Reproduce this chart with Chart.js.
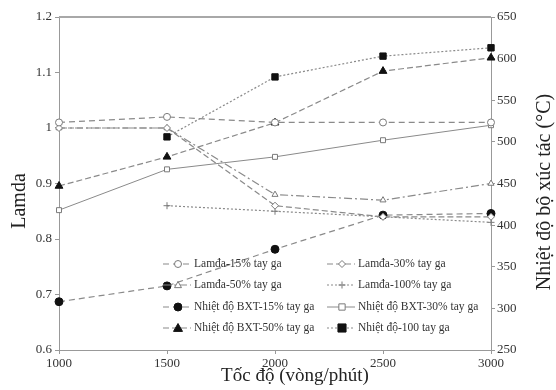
<!DOCTYPE html>
<html>
<head>
<meta charset="utf-8">
<script src="https://cdn.jsdelivr.net/npm/chart.js@4"></script>
<style>
  html, body { margin: 0; padding: 0; background: #fff; }
  #wrap { width: 556px; height: 390px; }
</style>
</head>
<body>
<div id="wrap"><canvas id="myChart" width="556" height="390"></canvas></div>
<script>
'use strict';

let speeds = ['1000', '1500', '2000', '2500', '3000'];

let lamda15 = [1.01, 1.02, 1.01, 1.01, 1.01];
let lamda30 = [1.0, 1.0, 0.86, 0.84, 0.84];
let lamda50 = [1.0, 1.0, 0.88, 0.87, 0.90];
let lamda100 = [null, 0.86, 0.85, 0.84, 0.83];

let temp15 = [308, 327, 371, 412, 414];
let temp30 = [418, 467, 482, 502, 520];
let temp50 = [447, 482, 523, 585, 601];
let temp100 = [null, 506, 578, 603, 613];

let seriesNames = [
    'Lamđa-15% tay ga', 'Lamđa-30% tay ga',
    'Lamđa-50% tay ga', 'Lamđa-100% tay ga',
    'Nhiệt độ BXT-15% tay ga', 'Nhiệt độ BXT-30% tay ga',
    'Nhiệt độ BXT-50% tay ga', 'Nhiệt độ-100 tay ga'
];

let xTitle = 'Tốc độ (vòng/phút)';
let yTitle = 'Lamda';
let y1Title = 'Nhiệt độ bộ xúc tác (°C)';

let serif = "'Liberation Serif', 'DejaVu Serif', serif";

function makeSet(name, data, axis, dash, style, radius, fill, width) {
    return {
        label: name,
        data: data,
        yAxisID: axis,
        borderColor: '#8a8a8a',
        borderWidth: width || 1.2,
        borderDash: dash,
        pointStyle: style,
        pointRadius: radius,
        pointBackgroundColor: fill,
        pointBorderColor: fill === '#fff' ? '#7a7a7a' : '#111',
        pointBorderWidth: 1,
        tension: 0,
        fill: false
    };
}

function drawMark(ctx, ds, x, y) {
    let r = ds.pointRadius;
    ctx.save();
    ctx.fillStyle = ds.pointBackgroundColor;
    ctx.strokeStyle = ds.pointBorderColor;
    ctx.lineWidth = 1;
    ctx.setLineDash([]);
    ctx.beginPath();
    if (ds.pointStyle === 'circle') {
        ctx.arc(x, y, r, 0, Math.PI * 2);
        ctx.fill(); ctx.stroke();
    } else if (ds.pointStyle === 'rect') {
        ctx.rect(x - r * 0.9, y - r * 0.9, r * 1.8, r * 1.8);
        ctx.fill(); ctx.stroke();
    } else if (ds.pointStyle === 'rectRot') {
        ctx.moveTo(x, y - r); ctx.lineTo(x + r, y); ctx.lineTo(x, y + r); ctx.lineTo(x - r, y); ctx.closePath();
        ctx.fill(); ctx.stroke();
    } else if (ds.pointStyle === 'triangle') {
        ctx.moveTo(x, y - r); ctx.lineTo(x + r, y + r * 0.75); ctx.lineTo(x - r, y + r * 0.75); ctx.closePath();
        ctx.fill(); ctx.stroke();
    } else {
        ctx.moveTo(x - r, y); ctx.lineTo(x + r, y);
        ctx.moveTo(x, y - r); ctx.lineTo(x, y + r);
        ctx.stroke();
    }
    ctx.restore();
}

function drawTitle(ctx, text, x, y, size, rotate) {
    ctx.save();
    ctx.translate(x, y);
    if (rotate) ctx.rotate(-Math.PI / 2);
    ctx.fillStyle = '#222';
    ctx.font = size + 'px ' + serif;
    ctx.textAlign = 'center';
    ctx.textBaseline = 'middle';
    ctx.fillText(text, 0, 0);
    ctx.restore();
}

// frame top line, axis titles and the legend inside the plot
let extras = {
    id: 'extras',
    afterDraw(chart) {
        let ctx = chart.ctx;
        let area = chart.chartArea;
        ctx.save();
        ctx.strokeStyle = '#a8a8a8';
        ctx.lineWidth = 2;
        ctx.beginPath();
        ctx.moveTo(area.left, area.top);
        ctx.lineTo(area.right, area.top);
        ctx.stroke();
        ctx.restore();

        drawTitle(ctx, yTitle, 20, 201, 20, true);
        drawTitle(ctx, y1Title, 545, 192, 20, true);
        drawTitle(ctx, xTitle, 295, 376, 19, false);

        let colX = [163, 327];
        let rowY = [264, 285, 307, 328];
        chart.data.datasets.forEach(function (ds, i) {
            let x = colX[i % 2];
            let y = rowY[Math.floor(i / 2)];
            ctx.save();
            ctx.strokeStyle = ds.borderColor;
            ctx.lineWidth = ds.borderWidth;
            ctx.setLineDash(ds.borderDash || []);
            ctx.beginPath();
            ctx.moveTo(x, y);
            ctx.lineTo(x + 28, y);
            ctx.stroke();
            ctx.restore();
            drawMark(ctx, ds, x + 15, y);
            ctx.save();
            ctx.fillStyle = '#333';
            ctx.font = '11.5px ' + serif;
            ctx.textBaseline = 'middle';
            ctx.fillText(ds.label, x + 31, y);
            ctx.restore();
        });
    }
};

let ctx = document.getElementById('myChart').getContext('2d');

let chart = new Chart(ctx, {
    type: 'line',
    data: {
        labels: speeds,
        datasets: [
            makeSet(seriesNames[0], lamda15, 'y', [6, 4], 'circle', 3.5, '#fff'),
            makeSet(seriesNames[1], lamda30, 'y', [6, 3], 'rectRot', 3.5, '#fff'),
            makeSet(seriesNames[2], lamda50, 'y', [8, 3, 2, 3], 'triangle', 3.5, '#fff'),
            makeSet(seriesNames[3], lamda100, 'y', [2, 2], 'cross', 3.5, '#fff'),
            makeSet(seriesNames[4], temp15, 'y1', [6, 4], 'circle', 4, '#111'),
            makeSet(seriesNames[5], temp30, 'y1', [], 'rect', 3.5, '#fff', 1),
            makeSet(seriesNames[6], temp50, 'y1', [6, 3], 'triangle', 4.5, '#111'),
            makeSet(seriesNames[7], temp100, 'y1', [2, 2], 'rect', 4.5, '#111')
        ]
    },
    options: {
        responsive: false,
        animation: false,
        layout: { padding: { top: 17, right: 0, left: 0, bottom: 0 } },
        plugins: {
            legend: { display: false },
            tooltip: { enabled: false }
        },
        scales: {
            x: {
                offset: false,
                grid: { display: true, drawOnChartArea: false, tickLength: 4, color: '#999' },
                border: { color: '#999', width: 1 },
                ticks: { color: '#333', font: { family: serif, size: 13 }, padding: 2, maxRotation: 0 },
                afterFit: function (s) { s.height = 40; }
            },
            y: {
                position: 'left',
                min: 0.6,
                max: 1.2,
                grid: { display: true, drawOnChartArea: false, tickLength: 4, color: '#999' },
                border: { color: '#999', width: 1 },
                ticks: {
                    stepSize: 0.1,
                    color: '#333',
                    font: { family: serif, size: 13 },
                    padding: 3,
                    callback: function (v) { return String(+v.toFixed(1)); }
                },
                afterFit: function (s) { s.width = 59; }
            },
            y1: {
                position: 'right',
                min: 250,
                max: 650,
                grid: { display: true, drawOnChartArea: false, tickLength: 4, color: '#999' },
                border: { color: '#999', width: 1 },
                ticks: { stepSize: 50, color: '#333', font: { family: serif, size: 13 }, padding: 2 },
                afterFit: function (s) { s.width = 65; }
            }
        }
    },
    plugins: [extras]
});
</script>
</body>
</html>
